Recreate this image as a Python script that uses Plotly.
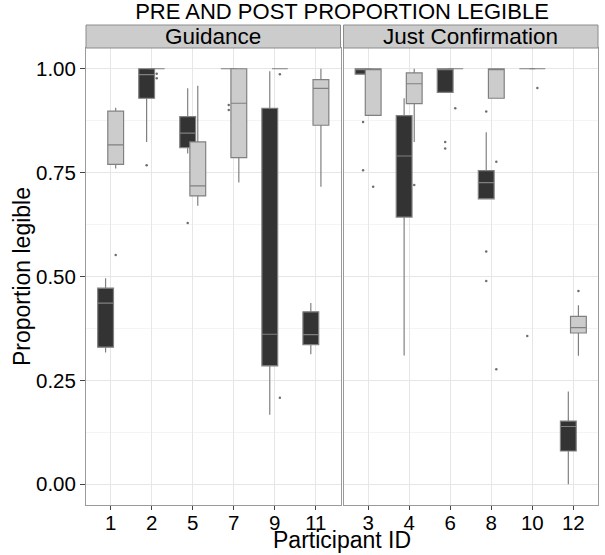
import plotly.graph_objects as go

# ---------------- data ----------------
guid_ids = ['1', '2', '5', '7', '9', '11']
conf_ids = ['3', '4', '6', '8', '10', '12']

# Guidance, PRE (dark boxes)
g_pre_lo = [0.317, 0.824, 0.796, 1.000, 0.167, 0.313]
g_pre_q1 = [0.330, 0.929, 0.810, 1.000, 0.285, 0.336]
g_pre_md = [0.436, 0.986, 0.845, 1.000, 0.361, 0.360]
g_pre_q3 = [0.472, 1.000, 0.885, 1.000, 0.905, 0.415]
g_pre_hi = [0.496, 1.000, 0.953, 1.000, 0.994, 0.436]

# Guidance, POST (light boxes)
g_post_lo = [0.760, 1.000, 0.670, 0.726, 1.000, 0.716]
g_post_q1 = [0.770, 1.000, 0.694, 0.786, 1.000, 0.864]
g_post_md = [0.817, 1.000, 0.718, 0.917, 1.000, 0.953]
g_post_q3 = [0.898, 1.000, 0.824, 1.000, 1.000, 0.974]
g_post_hi = [0.906, 1.000, 0.959, 1.000, 1.000, 1.000]

# Just Confirmation, PRE (dark boxes)
c_pre_lo = [0.987, 0.310, 0.943, 0.687, 1.000, 0.000]
c_pre_q1 = [0.987, 0.643, 0.943, 0.687, 1.000, 0.080]
c_pre_md = [1.000, 0.790, 1.000, 0.726, 1.000, 0.139]
c_pre_q3 = [1.000, 0.887, 1.000, 0.755, 1.000, 0.152]
c_pre_hi = [1.000, 0.929, 1.000, 0.847, 1.000, 0.223]

# Just Confirmation, POST (light boxes)
c_post_lo = [0.888, 0.824, 1.000, 0.929, 1.000, 0.309]
c_post_q1 = [0.888, 0.916, 1.000, 0.929, 1.000, 0.364]
c_post_md = [1.000, 0.964, 1.000, 1.000, 1.000, 0.377]
c_post_q3 = [1.000, 0.990, 1.000, 1.000, 1.000, 0.404]
c_post_hi = [1.000, 1.000, 1.000, 1.000, 1.000, 0.431]

# Outliers: participant id + value
g_pre_out_id = ['2', '5', '7', '7']
g_pre_out_v = [0.768, 0.629, 0.913, 0.901]
g_post_out_id = ['1', '2', '2', '9', '9']
g_post_out_v = [0.552, 0.988, 0.977, 0.987, 0.208]
c_pre_out_id = ['3', '3', '6', '6', '8', '8', '8', '10']
c_pre_out_v = [0.872, 0.756, 0.824, 0.808, 0.897, 0.560, 0.489, 0.357]
c_post_out_id = ['3', '4', '6', '8', '8', '10', '12']
c_post_out_v = [0.716, 0.720, 0.905, 0.776, 0.277, 0.954, 0.465]

y_ticks = [0, 0.25, 0.5, 0.75, 1.0]

# ---------------- styling ----------------
DARK = '#333333'
LIGHT = '#cccccc'
EDGE = '#808080'
DODGE = 0.123
BOXW = 0.385
FONT = 'Liberation Sans, Arial, Helvetica, sans-serif'

fig = go.Figure()


def add_panel(ids, pre, post, pre_out, post_out, xa, ya):
    idx = {c: i for i, c in enumerate(ids)}
    for stats, col, off, outs in ((pre, DARK, -DODGE, pre_out), (post, LIGHT, DODGE, post_out)):
        lo, q1, md, q3, hi = stats
        fig.add_trace(go.Box(
            x=[i + off for i in range(len(ids))],
            lowerfence=lo, q1=q1, median=md, q3=q3, upperfence=hi,
            fillcolor=col, line=dict(color=EDGE, width=1.2),
            whiskerwidth=0, width=BOXW, boxpoints=False,
            xaxis=xa, yaxis=ya, showlegend=False, hoverinfo='skip'))
        oid, ov = outs
        fig.add_trace(go.Scatter(
            x=[idx[c] + off for c in oid], y=ov, mode='markers',
            marker=dict(size=2.5, color='#6e6e6e'),
            xaxis=xa, yaxis=ya, showlegend=False, hoverinfo='skip'))


add_panel(guid_ids,
          (g_pre_lo, g_pre_q1, g_pre_md, g_pre_q3, g_pre_hi),
          (g_post_lo, g_post_q1, g_post_md, g_post_q3, g_post_hi),
          (g_pre_out_id, g_pre_out_v), (g_post_out_id, g_post_out_v), 'x', 'y')
add_panel(conf_ids,
          (c_pre_lo, c_pre_q1, c_pre_md, c_pre_q3, c_pre_hi),
          (c_post_lo, c_post_q1, c_post_md, c_post_q3, c_post_hi),
          (c_pre_out_id, c_pre_out_v), (c_post_out_id, c_post_out_v), 'x2', 'y2')

W, H = 605, 555
L, R, T, B = 86, 7, 48, 50
PW = W - L - R
PH = H - T - B
gap = 3

TICKF = dict(size=20.5, color='black', family=FONT)
xcommon = dict(range=[-0.6, 5.6], tickmode='array', tickvals=list(range(6)),
               showgrid=True, gridcolor='#e6e6e6', gridwidth=1, zeroline=False,
               showline=True, mirror=True, linecolor='#9a9a9a', linewidth=1,
               ticks='outside', ticklen=4, tickcolor='#444444', tickfont=TICKF,
               ticklabelstandoff=-5)
ycommon = dict(range=[-0.05, 1.05], tickmode='array', tickvals=y_ticks,
               showgrid=True, gridcolor='#e6e6e6', gridwidth=1, zeroline=False,
               showline=True, mirror=True, linecolor='#9a9a9a', linewidth=1,
               minor=dict(tickvals=[0.125, 0.375, 0.625, 0.875], showgrid=True,
                          gridcolor='#f4f4f4', ticks=''))

half = (PW - gap) / 2 / PW
fig.update_layout(
    width=W, height=H,
    margin=dict(l=L, r=R, t=T, b=B),
    paper_bgcolor='white', plot_bgcolor='white',
    boxmode='overlay',
    font=dict(family=FONT, color='black'),
    title=dict(text='PRE AND POST PROPORTION LEGIBLE', x=0.5, xref='paper', xanchor='center',
               y=1 - 11 / H, yref='container', yanchor='middle',
               font=dict(size=22, family=FONT, color='black')),
    xaxis=dict(domain=[0, half], anchor='y', ticktext=guid_ids, **xcommon),
    xaxis2=dict(domain=[1 - half, 1], anchor='y2', ticktext=conf_ids, **xcommon),
    yaxis=dict(anchor='x', domain=[0, 1], tickformat='.2f', ticks='outside', ticklen=5,
               tickcolor='#444444', tickfont=TICKF, **ycommon),
    yaxis2=dict(anchor='x2', domain=[0, 1], matches='y', showticklabels=False, ticks='',
                **ycommon),
    showlegend=False,
)

# facet strips
strip_h = 23 / PH
for xr, label in (('x domain', 'Guidance'), ('x2 domain', 'Just Confirmation')):
    fig.add_shape(type='rect', xref=xr, yref='y domain', x0=0, x1=1, y0=1, y1=1 + strip_h,
                  fillcolor='#cccccc', line=dict(color='#8c8c8c', width=1), layer='above')
    fig.add_annotation(text=label, xref=xr, yref='y domain', x=0.5, y=1 + strip_h / 2,
                       xanchor='center', yanchor='middle', showarrow=False,
                       font=dict(size=22.5, family=FONT, color='black'))

# axis titles
fig.add_annotation(text='Participant ID', xref='paper', yref='paper', x=0.5,
                   y=-(540 - (T + PH)) / PH, xanchor='center', yanchor='middle',
                   showarrow=False, font=dict(size=23, family=FONT, color='black'))
fig.add_annotation(text='Proportion legible', xref='paper', yref='paper',
                   x=-(L - 22) / PW, y=(T + PH - 277) / PH, xanchor='center', yanchor='middle',
                   textangle=-90, showarrow=False, font=dict(size=23, family=FONT, color='black'))

fig.write_html("out.html", config={'displayModeBar': False},
               post_script="document.body.style.margin='0';document.body.style.overflow='hidden';")
